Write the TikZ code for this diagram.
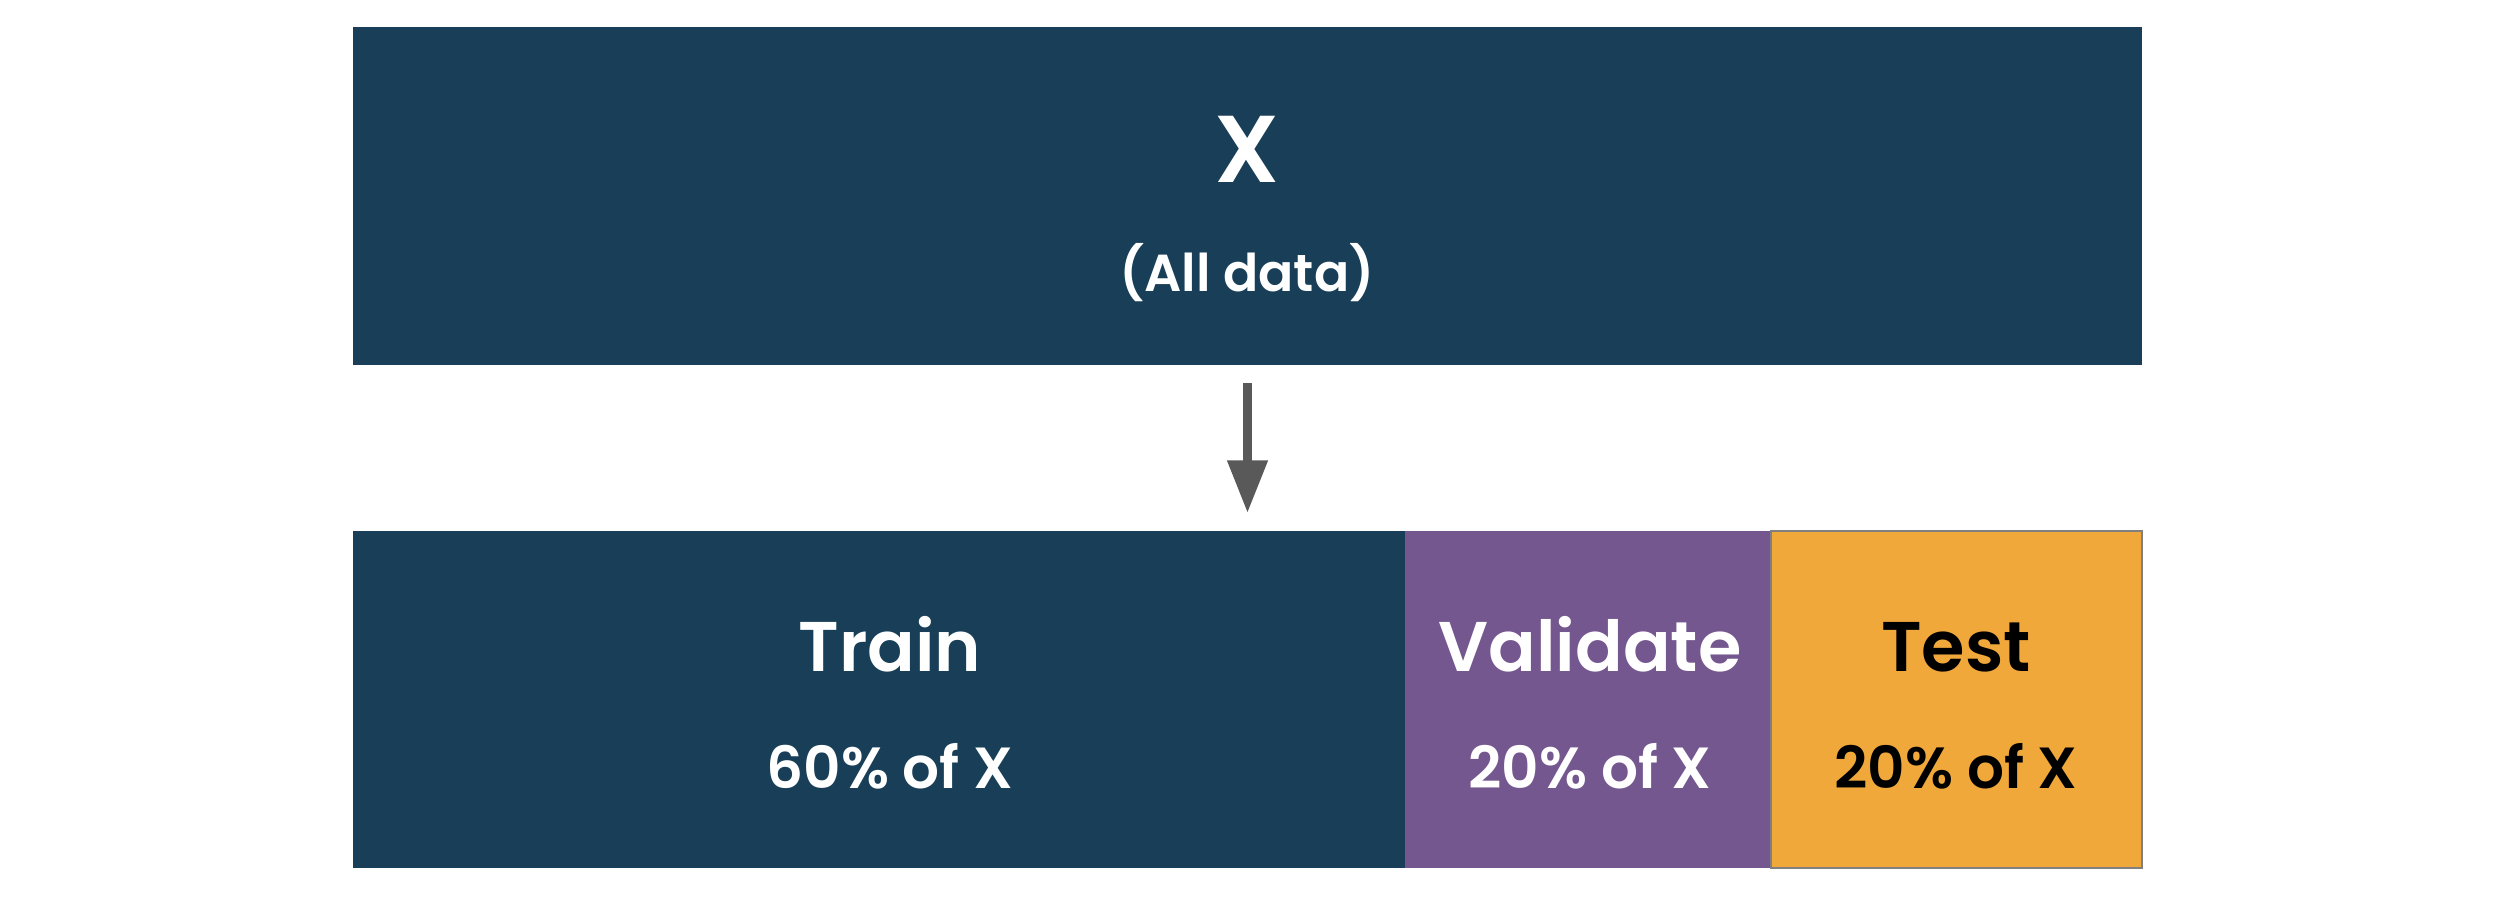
\documentclass[tikz,border=0pt]{standalone}
\usepackage{fontspec}
\setmainfont{Poppins}[BoldFont={Poppins SemiBold}]
\usetikzlibrary{arrows.meta}
\definecolor{navy}{RGB}{24,62,88}
\definecolor{purp}{RGB}{117,87,143}
\definecolor{orng}{RGB}{241,168,59}
\definecolor{arrgray}{RGB}{89,89,89}
\begin{document}
\begin{tikzpicture}[x=0.01cm,y=-0.01cm,
  lbl/.style={anchor=base,inner sep=0pt,font=\bfseries},
  big/.style={lbl,font=\bfseries\fontsize{20}{24}\selectfont},
  small/.style={lbl,font=\bfseries\fontsize{16.5}{20}\selectfont}]
\useasboundingbox (0,0) rectangle (2512,918);
\fill[navy] (353,27) rectangle (2142,365);
\node[lbl,text=white,font=\bfseries\fontsize{27}{30}\selectfont] (x) at (1247,182) {X};
\node[lbl,text=white,font=\bfseries\fontsize{14.8}{18}\selectfont] (all) at (1247,291) {(All data)};
\fill[navy] (353,531) rectangle (1405,868);
\fill[purp] (1405,531) rectangle (1771,868);
\fill[orng,draw=gray,line width=0.4pt] (1771,531) rectangle (2142,868);
\coordinate (as) at (1247.5,383);
\coordinate (ae) at (1247.5,513);
\draw[arrgray,line width=2.56pt,-{Triangle[length=15pt,width=11pt]}] (as) -- (ae);
\node[big,text=white] (train) at (890,671) {Train};
\node[small,text=white] (trainp) at (890,788) {60\% of X};
\node[big,text=white] (val) at (1590,671) {Validate};
\node[small,text=white] (valp) at (1590,788) {20\% of X};
\node[big,text=black] (test) at (1956,671) {Test};
\node[small,text=black] (testp) at (1956,788) {20\% of X};
\end{tikzpicture}
\end{document}
